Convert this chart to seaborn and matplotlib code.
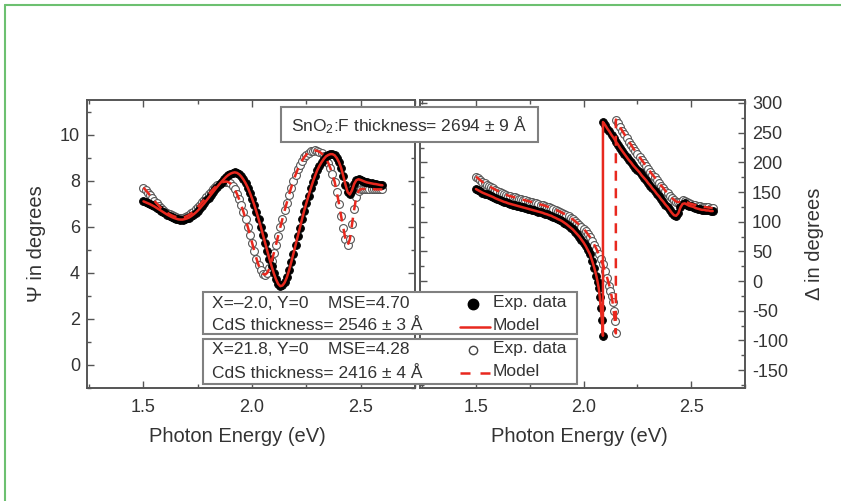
import numpy as np
import pandas as pd
import matplotlib
matplotlib.use("Agg")
import matplotlib.pyplot as plt
import seaborn as sns
from matplotlib.patches import Rectangle
from matplotlib.lines import Line2D
from matplotlib.ticker import MultipleLocator

# ---------------- data ----------------
psi_energy = [1.50, 1.51, 1.52, 1.53, 1.54, 1.55, 1.56, 1.57, 1.58, 1.59,
              1.60, 1.61, 1.62, 1.63, 1.64, 1.65, 1.66, 1.67, 1.68, 1.69,
              1.70, 1.71, 1.72, 1.73, 1.74, 1.75, 1.76, 1.77, 1.78, 1.79,
              1.80, 1.81, 1.82, 1.83, 1.84, 1.85, 1.86, 1.87, 1.88, 1.89,
              1.90, 1.91, 1.92, 1.93, 1.94, 1.95, 1.96, 1.97, 1.98, 1.99,
              2.00, 2.01, 2.02, 2.03, 2.04, 2.05, 2.06, 2.07, 2.08, 2.09,
              2.10, 2.11, 2.12, 2.13, 2.14, 2.15, 2.16, 2.17, 2.18, 2.19,
              2.20, 2.21, 2.22, 2.23, 2.24, 2.25, 2.26, 2.27, 2.28, 2.29,
              2.30, 2.31, 2.32, 2.33, 2.34, 2.35, 2.36, 2.37, 2.38, 2.39,
              2.40, 2.41, 2.42, 2.43, 2.44, 2.45, 2.46, 2.47, 2.48, 2.49,
              2.50, 2.51, 2.52, 2.53, 2.54, 2.55, 2.56, 2.57, 2.58, 2.59, 2.60]
psi_filled = [7.10, 7.06, 7.02, 6.98, 6.93, 6.88, 6.82, 6.76, 6.70, 6.64,
              6.58, 6.52, 6.47, 6.42, 6.38, 6.35, 6.32, 6.31, 6.31, 6.33,
              6.36, 6.40, 6.46, 6.53, 6.61, 6.70, 6.80, 6.91, 7.02, 7.14,
              7.26, 7.38, 7.50, 7.62, 7.74, 7.85, 7.96, 8.06, 8.16, 8.24,
              8.30, 8.34, 8.36, 8.34, 8.28, 8.18, 8.05, 7.89, 7.70, 7.47,
              7.22, 6.95, 6.65, 6.33, 6.00, 5.65, 5.30, 4.95, 4.60, 4.28,
              3.98, 3.72, 3.52, 3.42, 3.45, 3.58, 3.80, 4.10, 4.45, 4.82,
              5.20, 5.58, 5.95, 6.33, 6.70, 7.03, 7.35, 7.66, 7.95, 8.21,
              8.45, 8.64, 8.80, 8.94, 9.05, 9.11, 9.15, 9.15, 9.10, 8.98,
              8.80, 8.55, 8.20, 7.82, 7.50, 7.40, 7.58, 7.86, 8.02, 8.06,
              8.03, 7.99, 7.95, 7.92, 7.90, 7.88, 7.86, 7.85, 7.83, 7.81, 7.80]
psi_open = [7.70, 7.59, 7.48, 7.36, 7.25, 7.13, 7.02, 6.92, 6.82, 6.74,
            6.66, 6.60, 6.54, 6.49, 6.45, 6.42, 6.40, 6.39, 6.40, 6.42,
            6.46, 6.51, 6.58, 6.66, 6.75, 6.85, 6.96, 7.07, 7.18, 7.29,
            7.40, 7.51, 7.62, 7.72, 7.80, 7.87, 7.92, 7.95, 7.96, 7.94,
            7.88, 7.77, 7.62, 7.43, 7.20, 6.94, 6.65, 6.33, 6.00, 5.65,
            5.30, 4.95, 4.62, 4.33, 4.10, 3.96, 3.92, 4.00, 4.20, 4.50,
            4.85, 5.22, 5.60, 5.98, 6.35, 6.71, 7.05, 7.38, 7.70, 7.99,
            8.25, 8.49, 8.70, 8.87, 9.02, 9.13, 9.22, 9.27, 9.30, 9.31,
            9.29, 9.25, 9.18, 9.09, 8.96, 8.78, 8.55, 8.27, 7.95, 7.50,
            7.00, 6.45, 5.95, 5.45, 5.20, 5.45, 6.10, 6.75, 7.30, 7.55,
            7.63, 7.64, 7.64, 7.64, 7.63, 7.63, 7.63, 7.62, 7.62, 7.62, 7.62]

delta_filled_energy = [1.50, 1.51, 1.52, 1.53, 1.54, 1.55, 1.56, 1.57, 1.58, 1.59,
                       1.60, 1.61, 1.62, 1.63, 1.64, 1.65, 1.66, 1.67, 1.68, 1.69,
                       1.70, 1.71, 1.72, 1.73, 1.74, 1.75, 1.76, 1.77, 1.78, 1.79,
                       1.80, 1.81, 1.82, 1.83, 1.84, 1.85, 1.86, 1.87, 1.88, 1.89,
                       1.90, 1.91, 1.92, 1.93, 1.94, 1.95, 1.96, 1.97, 1.98, 1.99,
                       2.00, 2.01, 2.02, 2.03, 2.04, 2.05, 2.06, 2.065, 2.07, 2.075,
                       2.08, 2.085, 2.09,
                       2.09, 2.10, 2.11, 2.12, 2.13, 2.14, 2.15, 2.16, 2.17, 2.18,
                       2.19, 2.20, 2.21, 2.22, 2.23, 2.24, 2.25, 2.26, 2.27, 2.28,
                       2.29, 2.30, 2.31, 2.32, 2.33, 2.34, 2.35, 2.36, 2.37, 2.38,
                       2.39, 2.40, 2.41, 2.42, 2.43, 2.44, 2.45, 2.46, 2.47, 2.48,
                       2.49, 2.50, 2.51, 2.52, 2.53, 2.54, 2.55, 2.56, 2.57, 2.58,
                       2.59, 2.60]
delta_filled = [155, 153, 151, 149, 147.5, 146, 144.5, 143, 141.5, 139.5,
                138, 136.5, 135, 133.5, 132.5, 131, 130, 129, 128, 127,
                126, 125, 124, 123, 122, 121, 120, 119, 118, 117,
                116, 115, 113.5, 112.5, 111, 110, 108, 106.5, 104.5, 103,
                101, 98.5, 96, 93, 90, 87, 83, 79, 75, 70,
                65, 59, 52, 45, 34, 22, 8, -1, -11, -26,
                -45, -66, -92,
                268, 263, 257, 252, 246, 241, 235, 230, 224, 219,
                214, 209, 204, 200, 195, 191, 187, 183, 178, 174,
                170, 165, 161, 156, 152, 147, 143, 138, 134, 129,
                125, 120, 115, 111, 110, 114, 124, 130, 131, 129,
                127, 126, 125, 123, 122, 121, 120, 120, 119, 119,
                118, 118]

delta_open_energy = [1.50, 1.51, 1.52, 1.53, 1.54, 1.55, 1.56, 1.57, 1.58, 1.59,
                     1.60, 1.61, 1.62, 1.63, 1.64, 1.65, 1.66, 1.67, 1.68, 1.69,
                     1.70, 1.71, 1.72, 1.73, 1.74, 1.75, 1.76, 1.77, 1.78, 1.79,
                     1.80, 1.81, 1.82, 1.83, 1.84, 1.85, 1.86, 1.87, 1.88, 1.89,
                     1.90, 1.91, 1.92, 1.93, 1.94, 1.95, 1.96, 1.97, 1.98, 1.99,
                     2.00, 2.01, 2.02, 2.03, 2.04, 2.05, 2.06, 2.07, 2.08, 2.09,
                     2.10, 2.11, 2.12, 2.125, 2.13, 2.135, 2.14, 2.145, 2.15,
                     2.15, 2.16, 2.17, 2.18,
                     2.19, 2.20, 2.21, 2.22, 2.23, 2.24, 2.25, 2.26, 2.27, 2.28,
                     2.29, 2.30, 2.31, 2.32, 2.33, 2.34, 2.35, 2.36, 2.37, 2.38,
                     2.39, 2.40, 2.41, 2.42, 2.43, 2.44, 2.45, 2.46, 2.47, 2.48,
                     2.49, 2.50, 2.51, 2.52, 2.53, 2.54, 2.55, 2.56, 2.57, 2.58,
                     2.59, 2.60]
delta_open = [176, 173, 170, 167, 164.5, 162, 160, 158, 156, 154,
              152, 150.5, 149, 147, 145.5, 144, 143, 142, 141, 140,
              139, 138, 137, 136, 135, 134, 133, 132, 131, 130,
              129, 128, 127, 125.5, 124.5, 123, 121.5, 120, 118.5, 117,
              115, 113, 111, 109, 106.5, 104, 101, 98, 95, 91.5,
              88, 84, 79, 74, 68, 61, 54, 46, 37, 28,
              17, 5, -8, -16, -25, -36, -50, -67, -88,
              272, 266, 259, 253,
              247, 241, 235, 230, 224, 219, 214, 209, 204, 199,
              194, 189, 184, 179, 175, 170, 165, 161, 157, 152,
              148, 144, 140, 137, 134, 133, 134, 136, 135, 133,
              131, 130, 129, 128, 127, 126, 125.5, 125, 124.5, 124,
              123.5, 123]

x_ticks = [1.5, 2.0, 2.5]
psi_ticks = [0, 2, 4, 6, 8, 10]
delta_ticks = [-150, -100, -50, 0, 50, 100, 150, 200, 250, 300]

title_text = "SnO$_2$:F thickness= 2694 \u00b1 9 \u00c5"
set1_lines = ["X=\u20132.0, Y=0    MSE=4.70", "CdS thickness= 2546 \u00b1 3 \u00c5"]
set2_lines = ["X=21.8, Y=0    MSE=4.28", "CdS thickness= 2416 \u00b1 4 \u00c5"]
legend_labels = ["Exp. data", "Model"]

# ---------------- style ----------------
sns.set_style("ticks")
plt.rcParams['font.family'] = ['Liberation Sans', 'DejaVu Sans']
plt.rcParams['mathtext.fontset'] = 'custom'
plt.rcParams['mathtext.rm'] = 'Liberation Sans'
plt.rcParams['mathtext.it'] = 'Liberation Sans:italic'
plt.rcParams['mathtext.bf'] = 'Liberation Sans:bold'
plt.rcParams['axes.unicode_minus'] = False

SPINE = '#555555'
TXT = '#333333'
RED = '#e8281e'
GREEN = '#6cc070'

W, H = 841, 501
fig = plt.figure(figsize=(W / 100, H / 100), dpi=100)

def fx(px):
    return px / W

def fy(py):
    return 1 - py / H

ax_top, ax_bot = 100, 388
axL = fig.add_axes([fx(87), fy(ax_bot), fx(415 - 87), (ax_bot - ax_top) / H])
axR = fig.add_axes([fx(420), fy(ax_bot), fx(745 - 420), (ax_bot - ax_top) / H])

pF = pd.DataFrame({"E": psi_energy, "val": psi_filled})
pO = pd.DataFrame({"E": psi_energy, "val": psi_open})
dF = pd.DataFrame({"E": delta_filled_energy, "val": delta_filled})
dO = pd.DataFrame({"E": delta_open_energy, "val": delta_open})

def draw(ax, filled, opened):
    sns.scatterplot(data=opened, x="E", y="val", ax=ax, s=32, color='white',
                    edgecolor='#555555', linewidth=0.8, zorder=3, legend=False)
    sns.scatterplot(data=filled, x="E", y="val", ax=ax, s=32, color='black',
                    edgecolor='black', linewidth=0.6, zorder=4, legend=False)
    sns.lineplot(data=filled, x="E", y="val", ax=ax, sort=False, estimator=None,
                 color=RED, lw=1.8, zorder=5, legend=False)
    sns.lineplot(data=opened, x="E", y="val", ax=ax, sort=False, estimator=None,
                 color=RED, lw=1.8, linestyle=(0, (4, 3)), zorder=6,
                 legend=False)

draw(axL, pF, pO)
draw(axR, dF, dO)

for ax in (axL, axR):
    ax.set_xlim(1.24, 2.75)
    ax.set_xticks(x_ticks)
    ax.set_xticklabels([f"{t:.1f}" for t in x_ticks])
    ax.xaxis.set_minor_locator(MultipleLocator(0.25))
    for s in ax.spines.values():
        s.set_color(SPINE)
        s.set_linewidth(1.4)
        s.set_visible(True)
    ax.tick_params(which='both', direction='in', top=True, bottom=True,
                   left=True, right=True, color=SPINE, width=1.0,
                   labelsize=13, labelcolor=TXT)
    ax.tick_params(which='major', length=5)
    ax.tick_params(which='minor', length=3)
    ax.tick_params(axis='x', pad=8)
    ax.set_ylabel("")

axL.set_xlabel("Photon Energy (eV)", fontsize=14.5, color=TXT, labelpad=8)
axL.xaxis.set_label_coords(0.457, -0.135)
axR.set_xlabel("Photon Energy (eV)", fontsize=14.5, color=TXT, labelpad=8)
axR.xaxis.set_label_coords(0.49, -0.135)

axL.set_ylim(-1, 11.5)
axL.set_yticks(psi_ticks)
axL.yaxis.set_minor_locator(MultipleLocator(1))
axL.tick_params(axis='y', pad=5, labelright=False)
axL.set_ylabel("\u03a8 in degrees", fontsize=14.5, color=TXT, labelpad=10)

axR.set_ylim(-180, 305)
axR.set_yticks(delta_ticks)
axR.yaxis.set_minor_locator(MultipleLocator(25))
axR.tick_params(axis='y', labelleft=False, labelright=True, pad=5)
axR.yaxis.set_label_position('right')
axR.set_ylabel("\u0394 in degrees", fontsize=14.5, color=TXT, labelpad=12)

# ---------------- green frame ----------------
fig.add_artist(Line2D([fx(5), fx(5)], [fy(5), 0], color=GREEN, lw=1.5))
fig.add_artist(Line2D([fx(5), 1], [fy(5), fy(5)], color=GREEN, lw=1.5))

# ---------------- title box ----------------
def box(x0, y0, x1, y1):
    fig.add_artist(Rectangle((fx(x0), fy(y1)), fx(x1 - x0), (y1 - y0) / H,
                             facecolor='white', edgecolor='#808080', lw=1.5,
                             zorder=10))

box(281, 107, 538, 142)
fig.text(fx(409), fy(125), title_text, ha='center', va='center', fontsize=12.5,
         color=TXT, zorder=11)

# ---------------- legend boxes ----------------
box(203, 292, 577, 334)
box(203, 339, 577, 384)
fs = 12.5
fig.text(fx(212), fy(303), set1_lines[0], ha='left', va='center', fontsize=fs, color=TXT, zorder=11)
fig.text(fx(212), fy(325), set1_lines[1], ha='left', va='center', fontsize=fs, color=TXT, zorder=11)
fig.text(fx(212), fy(350), set2_lines[0], ha='left', va='center', fontsize=fs, color=TXT, zorder=11)
fig.text(fx(212), fy(373), set2_lines[1], ha='left', va='center', fontsize=fs, color=TXT, zorder=11)

fig.add_artist(Line2D([fx(473)], [fy(304)], marker='o', markersize=7.5,
                      markerfacecolor='black', markeredgecolor='black', zorder=11))
fig.add_artist(Line2D([fx(460), fx(490)], [fy(327), fy(327)], color=RED, lw=1.8, zorder=11))
fig.add_artist(Line2D([fx(473)], [fy(350)], marker='o', markersize=6,
                      markerfacecolor='white', markeredgecolor='#444444', mew=1.0, zorder=11))
fig.add_artist(Line2D([fx(460), fx(490)], [fy(373), fy(373)], color=RED, lw=1.8,
                      linestyle=(0, (4, 4)), zorder=11))
for yy, lab in zip([303, 326, 349, 372], legend_labels * 2):
    fig.text(fx(493), fy(yy), lab, ha='left', va='center', fontsize=fs, color=TXT, zorder=11)

fig.savefig("out.png", dpi=100, facecolor='white')
